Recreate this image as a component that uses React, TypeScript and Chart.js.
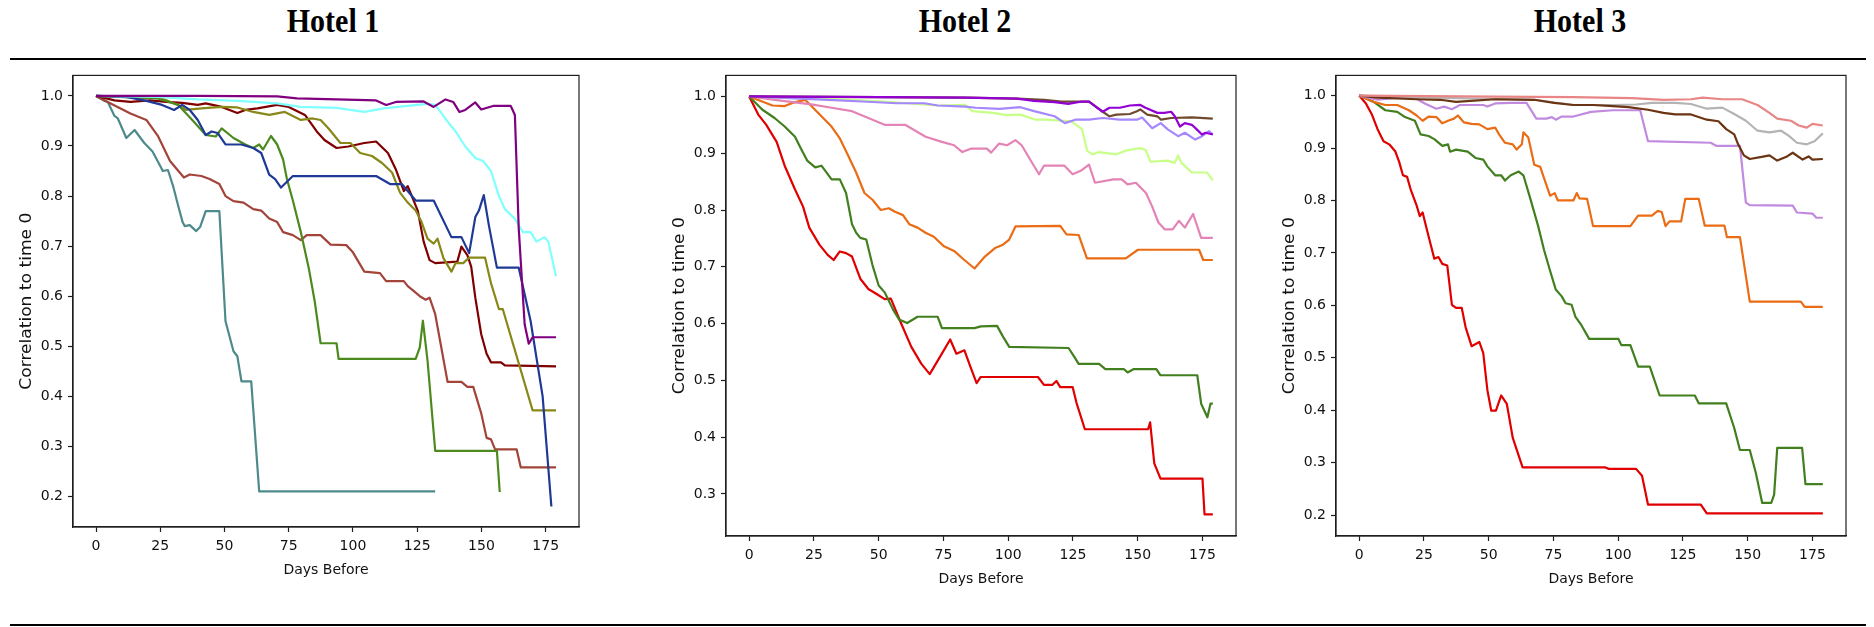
import React, { useEffect, useRef } from 'react';
import { Chart, registerables } from 'chart.js';

Chart.register(...registerables);

type Pt = [number, number];

// ---------- tick labels ----------
const DAY_TICKS = [0, 25, 50, 75, 100, 125, 150, 175];
const H1_Y_TICKS = [0.2, 0.3, 0.4, 0.5, 0.6, 0.7, 0.8, 0.9, 1.0];
const H2_Y_TICKS = [0.3, 0.4, 0.5, 0.6, 0.7, 0.8, 0.9, 1.0];
const H3_Y_TICKS = [0.2, 0.3, 0.4, 0.5, 0.6, 0.7, 0.8, 0.9, 1.0];
const HOTEL_TITLES = ['Hotel 1', 'Hotel 2', 'Hotel 3'];

// ---------- Hotel 1 series: [day, correlation] ----------
const h1Teal: Pt[] = [[0,1],[3.4,0.99],[4.6,0.988],[7.2,0.96],[8.5,0.955],[11.8,0.916],[15,0.932],[18.8,0.906],[22,0.889],[25,0.86],[26,0.85],[28,0.852],[30,0.82],[31.8,0.784],[33.7,0.748],[34.5,0.74],[36.5,0.742],[39,0.73],[40.5,0.738],[42.7,0.77],[48,0.77],[50.4,0.55],[53.5,0.49],[55,0.48],[56.6,0.43],[60.4,0.43],[63.5,0.21],[132,0.21]];
const h1Sienna: Pt[] = [[0,1],[5.7,0.985],[13.4,0.965],[19.6,0.952],[24.2,0.919],[28.8,0.87],[34.2,0.837],[36.5,0.843],[41,0.84],[44.2,0.834],[48,0.824],[50.4,0.8],[53.5,0.79],[57.4,0.787],[61.2,0.774],[64.3,0.771],[67.4,0.755],[70.5,0.748],[72.8,0.728],[76.6,0.722],[79.7,0.712],[82,0.722],[87.4,0.722],[91.3,0.703],[97.4,0.702],[99.8,0.689],[104.4,0.649],[110.5,0.646],[112.9,0.63],[119.8,0.63],[121.3,0.62],[123.7,0.61],[126,0.6],[128.3,0.593],[129.8,0.597],[132,0.564],[136.8,0.429],[142.2,0.429],[144.5,0.419],[146.8,0.419],[149.9,0.366],[152,0.317],[153.7,0.314],[155.3,0.294],[163.7,0.294],[165.3,0.258],[179,0.258]];
const h1Maroon: Pt[] = [[0,1],[7.2,0.991],[13.4,0.988],[21,0.991],[27.3,0.988],[33.5,0.986],[39.6,0.982],[42.7,0.985],[48.9,0.978],[55,0.966],[58.1,0.972],[62.8,0.975],[70.5,0.982],[75,0.978],[81.3,0.962],[85.9,0.929],[88.9,0.912],[93.6,0.896],[98.2,0.899],[104.4,0.906],[109,0.909],[113.6,0.886],[116.7,0.853],[119.8,0.81],[121.3,0.82],[125.2,0.771],[127.5,0.709],[129.8,0.672],[132,0.666],[140.6,0.669],[142.2,0.699],[144.5,0.682],[146,0.659],[147.6,0.597],[149.9,0.524],[152,0.485],[153.7,0.468],[157.6,0.468],[159.1,0.462],[179,0.46]];
const h1Olive: Pt[] = [[0,1],[8.8,0.998],[21,0.996],[25.7,0.995],[32,0.982],[35,0.972],[41,0.975],[48.9,0.978],[55,0.977],[61.2,0.968],[67.4,0.962],[73.5,0.968],[79.7,0.952],[84.3,0.955],[87.4,0.952],[90.5,0.935],[95.1,0.906],[99,0.906],[102.8,0.886],[107.4,0.88],[111.3,0.866],[115.2,0.847],[118.3,0.807],[121.3,0.787],[124.4,0.771],[126.7,0.748],[129,0.715],[131.4,0.705],[132.9,0.715],[135.2,0.676],[138.3,0.649],[139.9,0.666],[142.9,0.666],[145.2,0.677],[151.4,0.677],[153.7,0.626],[156.8,0.574],[158.3,0.574],[169.9,0.372],[179,0.372]];
const h1Green: Pt[] = [[0,1],[24.2,0.995],[32,0.982],[38,0.949],[42.7,0.922],[46.6,0.919],[48.9,0.935],[53.5,0.916],[58.1,0.903],[61.2,0.896],[63.5,0.903],[65,0.893],[68.1,0.92],[70.5,0.903],[72.8,0.873],[74.3,0.834],[76.6,0.791],[79.7,0.728],[82.8,0.656],[85.1,0.59],[87.4,0.506],[93.6,0.506],[94.4,0.475],[124.4,0.475],[126,0.498],[127.2,0.551],[129,0.472],[132,0.291],[156,0.291],[157.1,0.209]];
const h1Blue: Pt[] = [[0,1],[11.9,0.998],[19.6,0.99],[25.7,0.982],[30.4,0.972],[33.5,0.982],[36.5,0.972],[39.6,0.952],[42.7,0.922],[45,0.929],[47.3,0.926],[50.4,0.903],[56.6,0.903],[61.2,0.896],[64.3,0.886],[67.4,0.843],[69.7,0.834],[72,0.817],[76.6,0.84],[109,0.84],[114.4,0.824],[119,0.824],[124.4,0.791],[131.4,0.791],[138.3,0.718],[142.2,0.718],[145.2,0.686],[147.6,0.758],[149,0.771],[150.9,0.802],[152.9,0.741],[156,0.657],[164.5,0.657],[169.1,0.551],[173.8,0.4],[177.2,0.18]];
const h1Cyan: Pt[] = [[0,1],[24.2,0.998],[39.6,0.993],[55,0.99],[70.5,0.985],[79.7,0.978],[93.6,0.976],[104.4,0.968],[112,0.975],[121.3,0.98],[129,0.984],[132,0.982],[136.8,0.949],[139.9,0.929],[143.7,0.899],[147.6,0.876],[150.6,0.87],[153.7,0.85],[156.8,0.8],[159.1,0.774],[163,0.755],[166.1,0.728],[169.1,0.728],[171.4,0.709],[174.5,0.718],[176,0.709],[179,0.64]];
const h1Purple: Pt[] = [[0,1],[39.6,1],[70.5,0.999],[78.2,0.995],[93.6,0.993],[109,0.991],[112.9,0.982],[116.7,0.988],[127.5,0.989],[131.4,0.978],[136,0.993],[139,0.988],[141.4,0.968],[143.7,0.972],[147.6,0.987],[149.9,0.973],[154.5,0.98],[161.4,0.98],[163,0.962],[164.5,0.735],[166.8,0.544],[168.4,0.505],[169.9,0.518],[179,0.518]];

// ---------- Hotel 2 series ----------
const h2Red: Pt[] = [[0,1],[3.5,0.968],[6.6,0.95],[10.6,0.92],[13.7,0.878],[17.7,0.836],[20.8,0.806],[23.2,0.769],[27.1,0.739],[30.3,0.721],[32.6,0.712],[35,0.727],[37.4,0.724],[39.7,0.718],[42.9,0.679],[46,0.661],[49.2,0.652],[52.3,0.643],[54.7,0.644],[58.6,0.601],[62.6,0.559],[66.5,0.529],[69.7,0.511],[73.6,0.541],[77.6,0.572],[80,0.547],[83.1,0.553],[85.5,0.523],[87.8,0.495],[89.4,0.506],[111.5,0.506],[113.8,0.492],[117,0.492],[118.6,0.499],[120.1,0.488],[124.9,0.488],[126.4,0.46],[129.6,0.414],[154,0.414],[154.8,0.426],[156.4,0.354],[158.8,0.327],[175,0.327],[175.8,0.264],[179,0.264]];
const h2Green: Pt[] = [[0,1],[5,0.977],[9.8,0.962],[13.7,0.947],[17.7,0.929],[20,0.908],[22.4,0.887],[25.5,0.875],[27.9,0.878],[31.8,0.854],[35,0.854],[37.4,0.83],[39.7,0.775],[41.3,0.76],[42.9,0.751],[45.2,0.748],[47.6,0.703],[50,0.667],[52.3,0.655],[55.5,0.625],[57.9,0.607],[61,0.601],[65,0.612],[72.8,0.612],[74.4,0.592],[87,0.592],[89.4,0.595],[95.7,0.596],[98,0.577],[100.4,0.559],[123.3,0.557],[125.6,0.541],[127.2,0.529],[135.1,0.529],[137.5,0.52],[144.6,0.52],[146.1,0.514],[148.5,0.52],[157.2,0.52],[158.8,0.509],[173,0.509],[174.5,0.459],[176.9,0.435],[178.1,0.459],[179,0.459]];
const h2Orange: Pt[] = [[0,1],[5,0.991],[9,0.984],[13.7,0.983],[17,0.989],[21.6,0.994],[24,0.983],[27.9,0.965],[31.8,0.947],[35,0.926],[38.2,0.896],[41.3,0.866],[44.5,0.83],[47.6,0.818],[50.8,0.8],[53.9,0.803],[56.3,0.797],[59.4,0.791],[61.8,0.775],[65,0.769],[68.1,0.76],[71.3,0.753],[75.2,0.736],[79.1,0.728],[82.3,0.715],[87,0.697],[91,0.718],[94.9,0.733],[98,0.739],[100.4,0.748],[102.8,0.771],[120.1,0.772],[122.5,0.757],[127.2,0.756],[130.4,0.715],[145.4,0.715],[150.1,0.73],[173.7,0.73],[175.3,0.712],[179,0.712]];
const h2Pink: Pt[] = [[0,1],[12.9,0.992],[24,0.986],[31.8,0.98],[39.7,0.974],[46,0.962],[52.3,0.95],[60.2,0.95],[68.1,0.929],[74.4,0.92],[79.1,0.914],[82.3,0.902],[85.5,0.908],[91.8,0.908],[93.4,0.901],[96.5,0.917],[99.6,0.914],[102.8,0.923],[105.2,0.914],[109.1,0.884],[111.9,0.863],[113.8,0.878],[121.7,0.878],[124.9,0.863],[128,0.869],[131.2,0.88],[133.5,0.848],[140.6,0.854],[143.8,0.854],[146.1,0.845],[149.3,0.848],[153.2,0.83],[155.6,0.806],[158,0.778],[160.4,0.766],[163.5,0.766],[165.9,0.781],[168.2,0.769],[171.4,0.793],[174.5,0.751],[179,0.751]];
const h2LightGreen: Pt[] = [[0,1],[30,0.996],[55,0.99],[72.9,0.984],[83.5,0.985],[86.1,0.974],[94.1,0.971],[99.4,0.967],[104.7,0.968],[110.6,0.959],[114.6,0.959],[124.5,0.956],[128.5,0.942],[130.5,0.904],[132.5,0.898],[135.1,0.902],[141.8,0.898],[145.7,0.905],[151,0.909],[153,0.906],[155,0.885],[161.6,0.887],[164.3,0.883],[165.6,0.896],[166.9,0.883],[170.9,0.866],[176.8,0.866],[179,0.852]];
const h2Lavender: Pt[] = [[0,1],[30.5,0.994],[43.7,0.991],[57,0.988],[67.6,0.988],[72.9,0.984],[83.5,0.982],[87.5,0.98],[96.7,0.978],[104.7,0.981],[110,0.974],[117.9,0.965],[121.9,0.953],[125.9,0.959],[131.2,0.959],[136.5,0.962],[143.1,0.959],[149.7,0.959],[151.7,0.963],[155.6,0.944],[158.9,0.953],[161.6,0.942],[165.6,0.93],[168.2,0.936],[172.2,0.924],[174.8,0.93],[177.5,0.939],[179,0.933]];
const h2Brown: Pt[] = [[0,1],[83.5,0.998],[103.4,0.996],[113.9,0.994],[120.5,0.991],[125.9,0.991],[131.2,0.991],[133.8,0.982],[136.5,0.973],[139.1,0.965],[141.8,0.968],[147,0.969],[149.7,0.974],[151,0.977],[153.7,0.968],[157.6,0.965],[159,0.959],[162.9,0.962],[170.9,0.963],[179,0.961]];
const h2Violet: Pt[] = [[0,1],[83.5,0.998],[103.4,0.996],[110,0.992],[117.9,0.99],[123.2,0.987],[128.5,0.991],[131.2,0.991],[133.8,0.982],[136.5,0.973],[139.1,0.98],[143.1,0.98],[147,0.984],[151,0.985],[153,0.98],[157.6,0.971],[160.3,0.971],[162.9,0.973],[164.3,0.965],[166.3,0.947],[168.2,0.953],[170.9,0.95],[172.8,0.942],[174.8,0.933],[176.2,0.936],[179,0.933]];

// ---------- Hotel 3 series ----------
const h3Red: Pt[] = [[0,1],[2.6,0.985],[4.8,0.965],[7.1,0.936],[9.4,0.913],[11.6,0.907],[13.9,0.894],[15.4,0.874],[16.9,0.848],[18.5,0.845],[20,0.819],[22.2,0.79],[23.4,0.77],[24.5,0.777],[26,0.747],[27.5,0.718],[29,0.689],[30.6,0.692],[32.1,0.679],[34,0.676],[35.8,0.601],[37.4,0.595],[39.6,0.595],[41.1,0.558],[43.4,0.522],[46.4,0.53],[47.9,0.509],[49.5,0.438],[51,0.399],[52.8,0.399],[54.8,0.428],[57,0.412],[59.3,0.347],[63.1,0.291],[94.8,0.291],[96.4,0.288],[106.9,0.288],[109.2,0.275],[111.5,0.22],[131.9,0.22],[134.2,0.203],[179,0.203]];
const h3Green: Pt[] = [[0,1],[5.6,0.988],[10.1,0.972],[14.7,0.969],[17.7,0.959],[21.5,0.952],[23.7,0.926],[26.8,0.923],[29,0.917],[32.1,0.904],[34.3,0.907],[35.1,0.893],[37.4,0.897],[41.9,0.893],[44.9,0.881],[47.9,0.878],[49.5,0.865],[52.5,0.848],[54.8,0.848],[56.3,0.838],[58.5,0.848],[61.6,0.855],[63.4,0.848],[66.1,0.803],[69.1,0.751],[71.4,0.705],[73.7,0.666],[75.9,0.63],[78.2,0.617],[79.7,0.604],[82,0.601],[83.5,0.578],[85.8,0.562],[88.8,0.536],[100.1,0.536],[101.2,0.524],[104.7,0.524],[107.7,0.483],[112.2,0.483],[116,0.428],[129.6,0.428],[131.1,0.413],[141.7,0.413],[144.8,0.366],[147,0.324],[150.8,0.324],[153.1,0.281],[155.6,0.223],[159.1,0.223],[160.2,0.239],[161.4,0.328],[171,0.328],[172.3,0.259],[179,0.259]];
const h3Orange: Pt[] = [[0,1],[5.6,0.988],[10.1,0.982],[14.7,0.982],[19.2,0.972],[22.2,0.962],[24.5,0.952],[26.8,0.96],[29.8,0.959],[32.1,0.947],[34.3,0.952],[36.6,0.956],[38.1,0.962],[40.4,0.949],[43.4,0.946],[46.4,0.945],[49.5,0.936],[52.5,0.939],[54,0.926],[56.3,0.91],[59.3,0.907],[60.8,0.897],[62.8,0.907],[63.4,0.93],[65.3,0.92],[67.6,0.868],[69.9,0.864],[71.4,0.842],[73.7,0.809],[75.5,0.814],[76.7,0.8],[82.7,0.8],[84,0.814],[85,0.804],[88,0.803],[90.3,0.751],[104.7,0.751],[107.7,0.771],[113,0.771],[115.3,0.78],[116.8,0.778],[118.3,0.751],[119.8,0.76],[124.3,0.76],[125.9,0.803],[131.1,0.803],[133.4,0.752],[141,0.752],[142,0.73],[147,0.73],[150.8,0.607],[170.5,0.607],[172,0.597],[179,0.597]];
const h3Lilac: Pt[] = [[0,1],[7.1,0.992],[13.2,0.995],[19.2,0.996],[21.5,0.996],[25.3,0.985],[29.8,0.975],[32.8,0.979],[35.8,0.974],[38.9,0.982],[47.9,0.982],[49.5,0.979],[52.5,0.985],[58.5,0.986],[64.6,0.986],[68.4,0.956],[72.2,0.956],[74.4,0.959],[75.9,0.954],[78.2,0.96],[82.7,0.96],[89.5,0.969],[97.9,0.972],[108.5,0.972],[111.5,0.913],[135.7,0.91],[138,0.904],[147,0.904],[149.3,0.796],[150.8,0.791],[167.4,0.79],[169,0.777],[175,0.775],[176.5,0.767],[179,0.767]];
const h3Brown: Pt[] = [[0,1],[7.1,0.996],[22.2,0.993],[31.3,0.992],[37.4,0.988],[52.5,0.993],[67.6,0.992],[75.2,0.986],[82.7,0.982],[90.3,0.982],[97.9,0.98],[103.9,0.978],[111.5,0.973],[117.5,0.967],[122,0.964],[128.1,0.964],[134.2,0.954],[138.7,0.951],[141.7,0.936],[144.8,0.926],[146.3,0.907],[148.5,0.886],[150.8,0.879],[155.4,0.883],[158.4,0.886],[161.4,0.876],[165.2,0.884],[167.4,0.891],[171.2,0.878],[173.5,0.884],[175,0.878],[179,0.879]];
const h3Grey: Pt[] = [[0,1],[37.4,0.995],[67.6,0.992],[82.7,0.982],[97.9,0.982],[106.9,0.983],[113,0.986],[122,0.986],[128.1,0.984],[134.2,0.975],[140.2,0.977],[144.8,0.965],[149.3,0.952],[153.8,0.933],[158.4,0.93],[162.9,0.933],[165.9,0.923],[169,0.91],[172.8,0.907],[175.8,0.913],[179,0.928]];
const h3Coral: Pt[] = [[0,1],[52.5,0.998],[82.7,0.997],[105.4,0.995],[117.5,0.992],[128.1,0.993],[132.6,0.996],[140.2,0.993],[147.8,0.993],[153.8,0.982],[158.4,0.967],[161.4,0.956],[166.7,0.952],[169.7,0.943],[172.8,0.939],[175,0.946],[179,0.943]];

type Series = { points: Pt[]; color: string };

const hotel1Series: Series[] = [
  { points: h1Teal, color: '#4e8a8a' },
  { points: h1Sienna, color: '#a3443a' },
  { points: h1Maroon, color: '#800000' },
  { points: h1Olive, color: '#888818' },
  { points: h1Green, color: '#4c8a1e' },
  { points: h1Blue, color: '#1f3a96' },
  { points: h1Cyan, color: '#80ffff' },
  { points: h1Purple, color: '#800080' },
];
const hotel2Series: Series[] = [
  { points: h2Red, color: '#e00000' },
  { points: h2Green, color: '#427f1f' },
  { points: h2Orange, color: '#ea6c14' },
  { points: h2Pink, color: '#e483b5' },
  { points: h2LightGreen, color: '#c8ff88' },
  { points: h2Lavender, color: '#a587ff' },
  { points: h2Brown, color: '#6f4a2e' },
  { points: h2Violet, color: '#9400d3' },
];
const hotel3Series: Series[] = [
  { points: h3Red, color: '#e00000' },
  { points: h3Green, color: '#427f1f' },
  { points: h3Orange, color: '#ea6c14' },
  { points: h3Lilac, color: '#c18ae0' },
  { points: h3Grey, color: '#b4b4b4' },
  { points: h3Brown, color: '#6b3412' },
  { points: h3Coral, color: '#e88686' },
];

const Y_TITLE = 'Correlation to time 0';
const X_TITLE = 'Days Before';

const framePlugin = {
  id: 'frameAndTitles',
  afterDraw(chart: any) {
    const { ctx, chartArea: a } = chart;
    ctx.save();
    ctx.strokeStyle = '#1e1e1e';
    ctx.lineWidth = 1.2;
    ctx.strokeRect(a.left, a.top, a.right - a.left, a.bottom - a.top);
    ctx.fillStyle = '#111';
    ctx.textAlign = 'center';
    ctx.textBaseline = 'middle';
    ctx.font = '14px "DejaVu Sans"';
    ctx.fillText(X_TITLE, (a.left + a.right) / 2, a.bottom + 43);
    ctx.translate(a.left - 46, (a.top + a.bottom) / 2);
    ctx.rotate(-Math.PI / 2);
    ctx.font = '15px "DejaVu Sans"';
    const w = ctx.measureText(Y_TITLE).width;
    ctx.scale(177 / w, 1);
    ctx.fillText(Y_TITLE, 0, 0);
    ctx.restore();
  },
};

type PanelProps = {
  left: number; top: number; width: number; height: number;
  yAxisWidth: number; xAxisHeight: number; padTop: number; padRight: number;
  series: Series[]; yMin: number; yMax: number; yTicks: number[];
};

function Panel(p: PanelProps) {
  const ref = useRef<HTMLCanvasElement>(null);
  useEffect(() => {
    const tickFont = { family: 'DejaVu Sans', size: 14 };
    const n = p.series.length;
    const chart = new Chart(ref.current as HTMLCanvasElement, {
      type: 'line',
      data: {
        datasets: p.series.map((s, i) => ({
          data: s.points.map(([x, y]) => ({ x, y })),
          borderColor: s.color,
          backgroundColor: s.color,
          borderWidth: 2.2,
          pointRadius: 0,
          tension: 0,
          fill: false,
          order: n - i,
          borderJoinStyle: 'round' as const,
          borderCapStyle: 'butt' as const,
        })),
      },
      options: {
        responsive: false,
        animation: false,
        events: [],
        layout: { padding: { left: 0, top: p.padTop, right: p.padRight, bottom: 0 } },
        plugins: { legend: { display: false }, tooltip: { enabled: false } },
        scales: {
          x: {
            type: 'linear',
            min: -8.95,
            max: 187.95,
            afterFit: (s: any) => { s.height = p.xAxisHeight; },
            afterBuildTicks: (s: any) => { s.ticks = DAY_TICKS.map((v) => ({ value: v })); },
            ticks: { font: tickFont, color: '#111', padding: 6, maxRotation: 0, autoSkip: false, callback: (v: any) => String(v) },
            grid: { drawOnChartArea: false, drawTicks: true, tickLength: 5, tickColor: '#1e1e1e', tickWidth: 1.2 },
            border: { display: true, color: '#1e1e1e', width: 1.2 },
          },
          y: {
            type: 'linear',
            min: p.yMin,
            max: p.yMax,
            afterFit: (s: any) => { s.width = p.yAxisWidth; },
            afterBuildTicks: (s: any) => { s.ticks = p.yTicks.map((v) => ({ value: v })); },
            ticks: { font: tickFont, color: '#111', padding: 5, autoSkip: false, callback: (v: any) => Number(v).toFixed(1) },
            grid: { drawOnChartArea: false, drawTicks: true, tickLength: 5, tickColor: '#1e1e1e', tickWidth: 1.2 },
            border: { display: true, color: '#1e1e1e', width: 1.2 },
          },
        },
      },
      plugins: [framePlugin],
    } as any);
    return () => chart.destroy();
  }, []);
  return (
    <canvas
      ref={ref}
      width={p.width}
      height={p.height}
      style={{ position: 'absolute', left: p.left, top: p.top, width: p.width, height: p.height }}
    />
  );
}

const titleCenters = [333, 965, 1580];

export default function App() {
  return (
    <div style={{ position: 'absolute', left: 0, top: 0, width: 1874, height: 627, background: '#fff', overflow: 'hidden' }}>
      {HOTEL_TITLES.map((t, i) => (
        <div
          key={t}
          style={{
            position: 'absolute', left: titleCenters[i] - 100, width: 200, top: 7,
            textAlign: 'center', fontFamily: '"Liberation Serif", "Times New Roman", serif',
            fontWeight: 'bold', fontSize: 30, lineHeight: '30px', color: '#000',
            transform: 'scaleY(1.1)', transformOrigin: '50% 25px',
          }}
        >
          {t}
        </div>
      ))}
      <div style={{ position: 'absolute', left: 10, top: 58, width: 1856, height: 2, background: '#000' }} />
      <div style={{ position: 'absolute', left: 10, top: 624, width: 1856, height: 2, background: '#000' }} />
      <Panel left={0} top={62} width={605} height={530} yAxisWidth={73} xAxisHeight={65} padTop={10} padRight={26}
        series={hotel1Series} yMin={0.139} yMax={1.041} yTicks={H1_Y_TICKS} />
      <Panel left={640} top={62} width={620} height={530} yAxisWidth={86} xAxisHeight={56} padTop={10} padRight={24}
        series={hotel2Series} yMin={0.226} yMax={1.037} yTicks={H2_Y_TICKS} />
      <Panel left={1250} top={62} width={620} height={530} yAxisWidth={86} xAxisHeight={56} padTop={10} padRight={24}
        series={hotel3Series} yMin={0.16} yMax={1.0385} yTicks={H3_Y_TICKS} />
    </div>
  );
}
